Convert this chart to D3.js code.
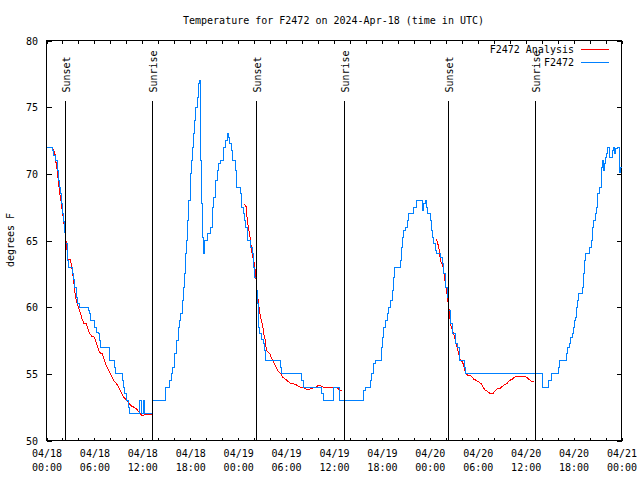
<!DOCTYPE html>
<html><head><meta charset="utf-8">
<script src="https://cdn.jsdelivr.net/npm/d3@7"></script>
<style>
body{margin:0;background:#fff}
svg{display:block}
text{font-family:"DejaVu Sans Mono","Liberation Mono",monospace;font-size:10px;fill:#000}
</style>
</head><body>
<svg id="chart" width="640" height="480"></svg>
<script>
// ---------------- data ----------------
const chartTitle = "Temperature for F2472 on 2024-Apr-18 (time in UTC)";
const yAxisTitle = "degrees F";
const seriesNames = ["F2472 Analysis", "F2472"];
const seriesColors = ["#ff0000", "#0080ff"];
const startUTC = Date.UTC(2024, 3, 18, 0, 0);   // 04/18 00:00
const endUTC = Date.UTC(2024, 3, 21, 0, 0);     // 04/21 00:00
const yTickValues = [50, 55, 60, 65, 70, 75, 80];
// sun events: hours after 04/18 00:00 UTC
const sunHours = [2.38, 13.27, 26.30, 37.32, 50.34, 61.23];
const sunLabels = ["Sunset", "Sunrise", "Sunset", "Sunrise", "Sunset", "Sunrise"];

// observed station temps [hours after start, degF]
const observed = [
[0,72],[0.79,71.75],[0.91,71.4],[1.09,71],[1.34,70.75],[1.41,70.25],[1.54,69.5],[1.67,69],[1.79,68.5],[1.92,67.75],
[2.04,67],[2.17,66.4],[2.29,65.6],[2.42,64.75],[2.59,63.5],[2.75,63],[3.22,62.5],[3.34,62.1],[3.54,61.5],[3.72,60.75],
[3.84,60.25],[4.09,60],[5.22,59.75],[5.38,59.5],[5.51,59],[6.05,58.5],[6.3,58.1],[6.47,58],[6.64,57.5],[6.76,57],
[7.89,56],[8.5,55.5],[8.64,55],[9.55,54.5],[9.68,54],[9.8,53.5],[10.02,53],[10.31,52.5],[10.43,52],[11.68,53],
[11.86,52],[12.11,53],[12.27,52],[13.27,53],[14.9,54],[15.44,54.5],[15.59,55],[15.78,55.5],[16.03,56.5],[16.28,57.5],
[16.53,58.5],[16.69,59],[16.82,59.5],[16.99,60.5],[17.19,61.5],[17.28,62.5],[17.41,64],[17.53,65],[17.62,66.5],[17.82,68],
[17.97,70],[18.12,71],[18.24,72],[18.37,73],[18.51,74],[18.66,75],[18.87,75.75],[19.0,76.25],[19.07,76.75],[19.2,77],
[19.28,71],[19.41,67.75],[19.57,65.25],[19.7,64],[19.82,65],[20.12,65.25],[20.22,65.5],[20.54,66],[20.75,67.5],[20.95,68.25],
[21.16,69.5],[21.37,70.25],[21.58,70.75],[21.79,71],[22.2,72],[22.41,72.5],[22.63,73],[22.83,72.75],[22.95,72.25],[23.13,71.75],
[23.25,71],[23.67,70.25],[23.79,69],[24.29,68.5],[24.38,67.5],[24.63,67],[24.79,66.5],[24.92,66],[25.13,65.5],[25.2,65],
[25.55,64.5],[25.76,64],[25.88,63.5],[25.96,63],[26.08,62.25],[26.26,61.25],[26.38,60.25],[26.51,59],[26.59,58.5],[26.71,58],
[26.92,57.6],[27.13,57.25],[27.3,56.75],[27.46,56],[29.3,55.5],[29.46,55],[31.93,54.5],[32.14,54],[34.44,53.5],[34.69,53],
[35.9,54],[36.73,53],[39.73,53.75],[39.98,54],[40.57,54.5],[40.7,55],[40.98,55.75],[41.2,56],[41.95,57],[42.11,57.75],
[42.24,58.5],[42.45,59],[42.66,59.5],[42.86,60],[43.07,60.5],[43.29,61.25],[43.41,62.25],[43.58,63],[44.33,63.5],[44.45,64.5],
[44.54,65.25],[44.74,65.75],[44.95,66],[45.17,66.5],[45.37,67],[45.99,67.5],[46.29,68],[47.02,67.25],[47.15,67.75],[47.4,68],
[47.58,67.5],[47.67,67],[48.08,66.5],[48.21,65.75],[48.33,65.25],[48.5,64.75],[48.71,64.25],[48.8,64],[49.34,63.75],[49.55,63.25],
[49.75,62.5],[49.96,61.5],[50.18,60.75],[50.38,59.75],[50.59,58.75],[50.8,58],[51.21,57.25],[51.42,57],[51.75,56],[52.34,55.5],
[52.5,55],[62.1,54],[62.82,54.5],[63.24,55],[64.15,55.5],[64.28,56],[65.12,56.5],[65.28,57],[65.53,57.25],[65.62,57.75],
[65.83,58],[65.95,58.5],[66.12,59],[66.24,59.25],[66.37,60],[66.53,60.5],[66.66,61],[67.08,61.5],[67.21,62.5],[67.37,63.5],
[67.49,64],[68.03,64.5],[68.24,65],[68.33,66],[68.53,66.5],[68.75,67],[68.87,67.5],[69.03,68.5],[69.21,69],[69.46,70.5],
[69.58,71],[69.71,70.25],[69.81,70.75],[70.0,71.25],[70.12,71.5],[70.28,72],[70.46,71.25],[70.84,71.75],[70.96,72],[71.12,71.5],
[71.28,71.9],[71.46,72],[71.71,70.75],[71.79,70.1],[71.87,70.5],[72,70.5]
];

// analysis curve, three evening segments
const analysisA = [
[0.84,71.8],[0.91,71.8],[1.09,71.4],[1.21,70.75],[1.34,70.25],[1.47,69.5],[1.59,68.9],[1.72,68.25],[1.84,67.9],[1.97,67.25],
[2.09,66.75],[2.22,66.1],[2.34,65.6],[2.42,65.1],[2.54,64.5],[2.67,63.6],[3.01,63.6],[3.09,63.25],[3.22,62.75],[3.34,62.25],
[3.47,61.6],[3.59,61],[3.72,60.5],[3.92,60.1],[4.13,59.75],[4.26,59.5],[4.47,59.1],[4.67,58.8],[4.97,58.75],[5.17,58.4],
[5.42,58],[5.72,57.8],[6.01,57.75],[6.26,57.25],[6.55,56.75],[6.76,56.55],[7.01,56.5],[7.26,56],[7.51,55.6],[7.8,55.25],
[8.1,54.9],[8.43,54.5],[8.77,54.25],[9.05,54],[9.35,53.6],[9.68,53.25],[10.02,53],[10.31,52.8],[10.61,52.6],[10.93,52.5],
[11.23,52.4],[11.43,52.25],[11.68,52.1],[11.9,51.9],[12.18,51.9],[12.4,51.95],[13.15,51.95]
];
const analysisB = [
[24.79,67.7],[25.04,67.5],[25.13,66.5],[25.42,65.5],[25.55,65],[25.76,63.9],[26.05,63.25],[26.13,62.75],[26.26,62],[26.38,61],
[26.51,60.5],[26.67,59.75],[26.8,59.25],[26.92,59],[27.09,58.5],[27.21,58],[27.39,57.5],[27.55,56.75],[27.76,56.6],[27.96,56.5],
[28.14,56.25],[28.34,56],[28.55,55.75],[28.76,55.5],[28.96,55.25],[29.18,55.1],[29.39,54.95],[29.59,54.75],[29.93,54.6],[30.22,54.45],
[30.55,54.3],[30.89,54.25],[31.18,54.2],[31.47,54.1],[31.81,54],[32.14,53.95],[32.43,53.9],[32.64,53.8],[32.84,53.8],[33.06,53.9],
[33.4,53.95],[33.68,54],[33.97,54.1],[34.31,54.1],[34.65,54],[35.78,54],[36.19,54],[36.48,53.9],[36.73,53.75],[37.03,53.7]
];
const analysisC = [
[48.84,65.1],[49.12,64.5],[49.34,63.5],[49.68,63],[49.84,62.25],[49.96,61.75],[50.09,61.25],[50.25,60.5],[50.38,60],[50.5,59.25],
[50.68,58.5],[50.84,58.25],[51.0,58],[51.21,57.5],[51.42,57],[51.62,56.5],[51.75,56.1],[51.96,56],[52.17,55.75],[52.34,55.4],
[52.5,55],[52.75,54.9],[53.09,54.9],[53.3,54.75],[53.51,54.6],[53.84,54.5],[54.13,54.4],[54.43,54.25],[54.68,54],[54.88,53.8],
[55.18,53.7],[55.6,53.5],[55.89,53.5],[56.14,53.7],[56.44,53.9],[56.76,53.9],[57.06,54.05],[57.39,54.2],[57.69,54.3],[57.98,54.5],
[58.31,54.6],[58.6,54.75],[58.85,54.8],[59.76,54.8],[60.1,54.75],[60.39,54.6],[60.61,54.5],[60.83,54.4],[61.0,54.4]
];
const analysisSegments = [analysisA, analysisB, analysisC];

// ---------------- chart ----------------
const toDate = h => new Date(startUTC + h * 3600e3);
const svg = d3.select("#chart");
const x = d3.scaleUtc().domain([new Date(startUTC), new Date(endUTC)]).range([46.5, 621.5]);
const y = d3.scaleLinear().domain([50, 80]).range([440.5, 40.5]);

// title
svg.append("text").attr("x", 333.5).attr("y", 24).attr("text-anchor", "middle").text(chartTitle);
// y axis title
svg.append("text").attr("transform", "translate(14,240) rotate(-90)").attr("text-anchor", "middle").text(yAxisTitle);

const allTicks = d3.utcHour.every(2).range(new Date(startUTC), new Date(endUTC + 1));
const majorTicks = d3.utcHour.every(6).range(new Date(startUTC), new Date(endUTC + 1));

// bottom axis
svg.append("g").attr("transform", "translate(0,440.5)")
  .call(d3.axisBottom(x).tickValues(allTicks).tickSize(-3).tickSizeOuter(0).tickFormat(""));
const gBL = svg.append("g").attr("transform", "translate(0,440.5)")
  .call(d3.axisBottom(x).tickValues(majorTicks).tickSize(0).tickSizeOuter(0).tickPadding(0).tickFormat(""));
gBL.selectAll(".tick text").each(function(d){
  const t = d3.select(this).attr("y", null).attr("dy", null);
  t.append("tspan").attr("x", 0).attr("y", 16.5).text(d3.utcFormat("%m/%d")(d));
  t.append("tspan").attr("x", 0).attr("y", 30.5).text(d3.utcFormat("%H:%M")(d));
});
// top mirror ticks
svg.append("g").attr("transform", "translate(0,40.5)")
  .call(d3.axisTop(x).tickValues(allTicks).tickSize(-3).tickSizeOuter(0).tickFormat(""));
// left axis
svg.append("g").attr("transform", "translate(46.5,0)")
  .call(d3.axisLeft(y).tickValues(yTickValues).tickSize(-5).tickSizeOuter(0).tickPadding(8.5))
  .selectAll(".tick text").attr("dy", "0.35em");
// right mirror ticks
svg.append("g").attr("transform", "translate(621.5,0)")
  .call(d3.axisRight(y).tickValues(yTickValues).tickSize(-5).tickSizeOuter(0).tickFormat(""));
svg.selectAll(".domain").remove();
svg.selectAll(".tick line").attr("stroke", "#000").attr("shape-rendering", "crispEdges");
svg.selectAll(".tick text").attr("font-family", null).attr("font-size", null).attr("fill", "#000");

// border
svg.append("rect").attr("x", x.range()[0]).attr("y", y.range()[1])
  .attr("width", x.range()[1] - x.range()[0]).attr("height", y.range()[0] - y.range()[1])
  .attr("fill", "none").attr("stroke", "#000").attr("shape-rendering", "crispEdges");

// data lines
const lineA = d3.line().x(d => x(toDate(d[0]))).y(d => y(d[1]));
const lineO = d3.line().x(d => x(toDate(d[0]))).y(d => y(d[1])).curve(d3.curveStepAfter);
svg.append("g").selectAll("path").data(analysisSegments).join("path")
  .attr("d", lineA).attr("fill", "none").attr("stroke", seriesColors[0]).attr("stroke-width", 1)
  .attr("shape-rendering", "crispEdges");
svg.append("path").datum(observed).attr("d", lineO).attr("fill", "none")
  .attr("stroke", seriesColors[1]).attr("stroke-width", 1).attr("shape-rendering", "crispEdges");

// sun events
const sunG = svg.append("g");
sunHours.forEach((h, i) => {
  const sx = Math.round(x(toDate(h)) - 0.5) + 0.5;
  sunG.append("line").attr("x1", sx).attr("x2", sx).attr("y1", y(50)).attr("y2", y(75.5))
    .attr("stroke", "#000").attr("shape-rendering", "crispEdges");
  sunG.append("text").attr("transform", `translate(${sx + 4},${y(76.1)}) rotate(-90)`)
    .attr("text-anchor", "start").text(sunLabels[i]);
});

// legend
const leg = svg.append("g");
[0, 1].forEach(i => {
  const ly = 49.5 + i * 13;
  leg.append("text").attr("x", 574).attr("y", ly + 3.5).attr("text-anchor", "end").text(seriesNames[i]);
  leg.append("line").attr("x1", 581).attr("x2", 609).attr("y1", ly).attr("y2", ly)
    .attr("stroke", seriesColors[i]).attr("shape-rendering", "crispEdges");
});
</script>
</body></html>
